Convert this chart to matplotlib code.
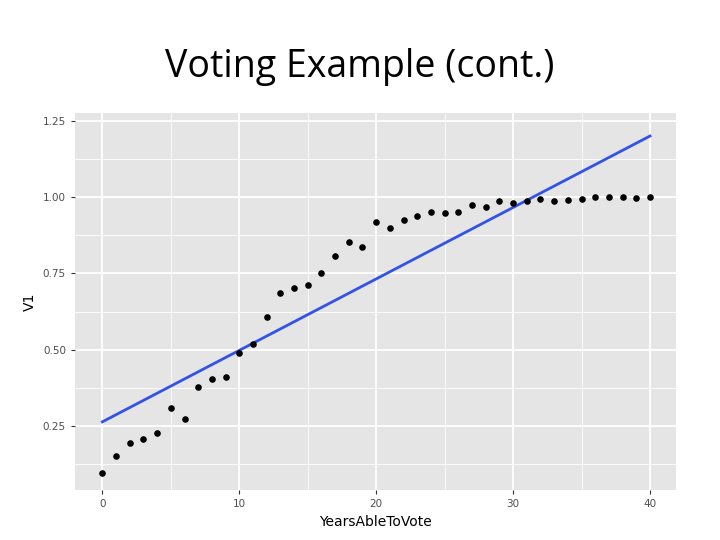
import numpy as np
import matplotlib.pyplot as plt

years = list(range(41))
v1 = [0.095, 0.150, 0.193, 0.206, 0.226, 0.310, 0.274, 0.379, 0.405, 0.411,
      0.490, 0.519, 0.607, 0.686, 0.702, 0.712, 0.751, 0.806, 0.852, 0.836,
      0.920, 0.898, 0.924, 0.937, 0.953, 0.947, 0.953, 0.976, 0.969, 0.986,
      0.982, 0.989, 0.995, 0.989, 0.992, 0.995, 1.0, 1.0, 1.0, 0.998, 1.0]

fig = plt.figure(figsize=(7.2, 5.4), dpi=100)
fig.text(0.5, 0.875, "Voting Example (cont.)", ha="center", va="center",
         fontsize=27, family=["Open Sans", "DejaVu Sans"])
ax = fig.add_axes([75/720, 1-490/540, 601/720, 377/540])
ax.set_facecolor("#e5e5e5")
for s in ax.spines.values():
    s.set_visible(False)

x = np.array(years)
y = np.array(v1)
slope, icpt = np.polyfit(x, y, 1)
ax.plot([0, 40], [icpt, icpt + slope*40], color="#3352e6", lw=2, zorder=3)
ax.scatter(x, y, s=14, color="black", zorder=4)

ax.set_xlim(-2, 41.9)
ax.set_ylim(0.04, 1.276)
ax.set_xticks([0, 10, 20, 30, 40])
ax.set_yticks([0.25, 0.5, 0.75, 1.0, 1.25])
ax.set_yticklabels(["0.25", "0.50", "0.75", "1.00", "1.25"])
ax.set_xticks([5, 15, 25, 35], minor=True)
ax.set_yticks([0.125, 0.375, 0.625, 0.875, 1.125], minor=True)
ax.grid(which="major", color="white", lw=1.3)
ax.grid(which="minor", color="white", lw=0.6)
ax.set_axisbelow(True)
ax.tick_params(which="both", length=3, color="#333333", labelsize=7.5, labelcolor="#4d4d4d")
ax.tick_params(which="minor", length=0)
ax.set_xlabel("YearsAbleToVote", fontsize=10)
ax.set_ylabel("V1", fontsize=10)
fig.savefig("out.png")
